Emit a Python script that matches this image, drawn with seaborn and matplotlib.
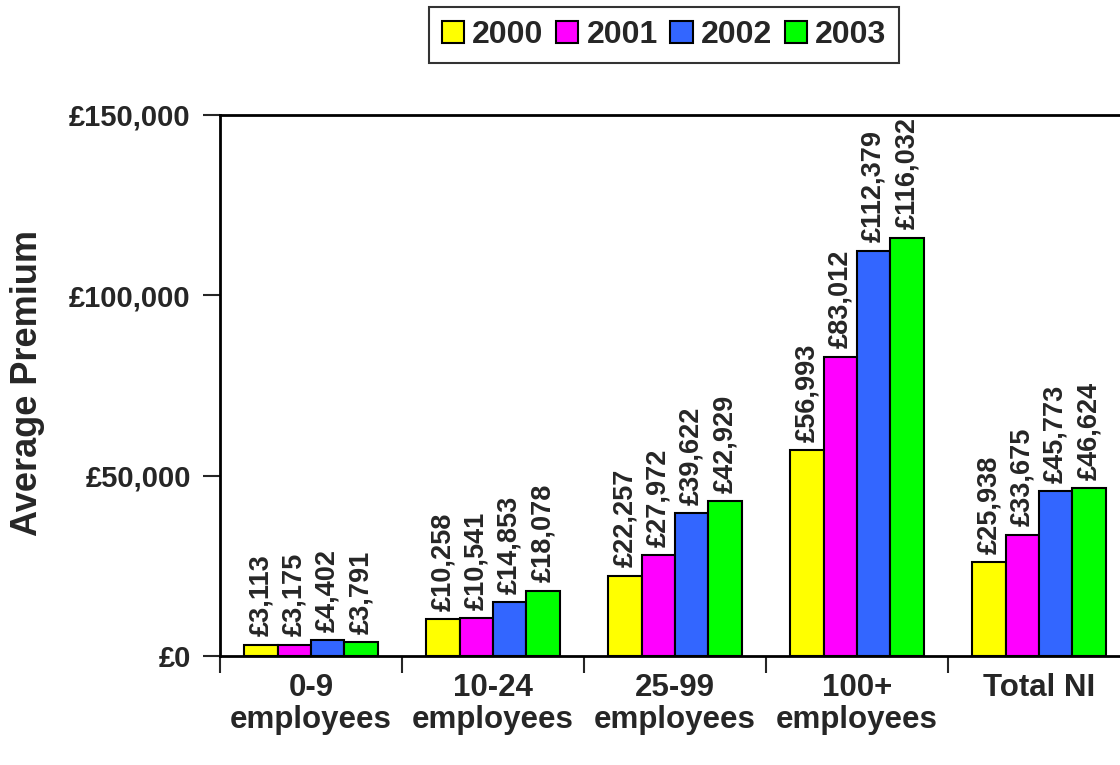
import matplotlib
matplotlib.use("Agg")
import matplotlib.pyplot as plt
import seaborn as sns
import pandas as pd
from matplotlib.ticker import FuncFormatter, FixedLocator

categories = ["0-9\nemployees", "10-24\nemployees", "25-99\nemployees", "100+\nemployees", "Total NI"]
years = ["2000", "2001", "2002", "2003"]
premium_2000 = [3113, 10258, 22257, 56993, 25938]
premium_2001 = [3175, 10541, 27972, 83012, 33675]
premium_2002 = [4402, 14853, 39622, 112379, 45773]
premium_2003 = [3791, 18078, 42929, 116032, 46624]
colors = ["#FFFF00", "#FF00FF", "#3366FF", "#00FF00"]

series = [premium_2000, premium_2001, premium_2002, premium_2003]
rows = []
for year, vals in zip(years, series):
    for cat, v in zip(categories, vals):
        rows.append({"Size": cat, "Year": year, "Premium": v})
df = pd.DataFrame(rows)

sns.set_style("white")
plt.rcParams["font.family"] = ["Liberation Sans", "DejaVu Sans"]
plt.rcParams["font.weight"] = "bold"

fig = plt.figure(figsize=(11.2, 7.65), dpi=100)
ax = fig.add_axes([220 / 1120, 109 / 765, 910 / 1120, 541 / 765])

sns.barplot(data=df, x="Size", y="Premium", hue="Year", order=categories,
            hue_order=years, palette=colors, edgecolor="black", linewidth=1.5,
            width=0.735, saturation=1, ax=ax, legend=True)

for container in ax.containers:
    ax.bar_label(container, labels=[f"£{int(v):,}" for v in container.datavalues],
                 rotation=90, padding=6, fontsize=19.5, fontweight="bold")

ax.set_ylim(0, 150000)
ax.set_xlim(-0.5, len(categories) - 0.5)
ax.yaxis.set_major_locator(FixedLocator([0, 50000, 100000, 150000]))
ax.yaxis.set_major_formatter(FuncFormatter(lambda v, p: f"£{int(v):,}"))
ax.tick_params(axis="y", labelsize=21, length=12, width=1.5, direction="out", left=True, pad=9)

# tick marks between groups, labels centred under groups
ax.set_xticks([i - 0.5 for i in range(len(categories) + 1)])
ax.set_xticklabels([""] * (len(categories) + 1))
ax.set_xticks(range(len(categories)), minor=True)
ax.set_xticklabels(categories, minor=True, fontsize=22.5, fontweight="bold", linespacing=1.1)
ax.tick_params(axis="x", which="major", length=12, width=1.5, direction="out", bottom=True)
ax.tick_params(axis="x", which="minor", length=0, pad=12)

ax.set_xlabel("")
ax.set_ylabel("Average Premium", fontsize=26, fontweight="bold")
ax.yaxis.set_label_coords(-0.192, 0.505)

for side in ["left", "bottom", "top"]:
    ax.spines[side].set_visible(True)
    ax.spines[side].set_color("black")
    ax.spines[side].set_linewidth(2)
ax.spines["right"].set_visible(False)

handles, labels = ax.get_legend_handles_labels()
ax.legend_.remove()
leg = fig.legend(handles, labels, loc="center", bbox_to_anchor=(664 / 1120, 1 - 35 / 765),
                 ncol=4, frameon=True, fancybox=False, edgecolor="black",
                 prop={"size": 23, "weight": "bold"}, handlelength=0.7, handleheight=0.7,
                 handletextpad=0.25, columnspacing=0.4, borderpad=0.4, borderaxespad=0)
leg.get_frame().set_linewidth(1.5)

fig.savefig("out.png", dpi=100)
